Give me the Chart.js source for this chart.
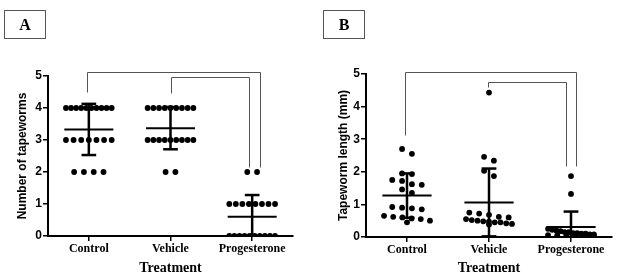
<!DOCTYPE html>
<html>
<head>
<meta charset="utf-8">
<script src="https://cdn.jsdelivr.net/npm/chart.js@4.4.0/dist/chart.umd.min.js"></script>
<style>
  html, body { margin: 0; padding: 0; background: #fff; }
  #wrap { position: relative; width: 617px; height: 279px; overflow: hidden; }
  .panel { position: absolute; top: 0; }
  .tag {
    position: absolute; top: 10px; width: 40px; height: 27px;
    border: 1px solid #555; text-align: center;
    font: bold 16px "Liberation Serif", serif; line-height: 28px; color: #000;
  }
</style>
</head>
<body>
<div id="wrap">
  <div class="panel" style="left:0"><canvas id="chart-a" width="307" height="279"></canvas></div>
  <div class="panel" style="left:307px"><canvas id="chart-b" width="310" height="279"></canvas></div>
  <div class="tag" style="left:4px">A</div>
  <div class="tag" style="left:323px">B</div>
</div>
<script>
// categories + tick labels
const groups = ["Control", "Vehicle", "Progesterone"];
const yTicks = [0, 1, 2, 3, 4, 5];

// Panel A – number of tapeworms per animal
const countControl = [4,4,4,4,4,4,4,4,4,4, 3,3,3,3,3,3,3, 2,2,2,2];
const countVehicle = [4,4,4,4,4,4,4,4,4, 3,3,3,3,3,3,3,3,3, 2,2];
const countProg    = [2,2, 1,1,1,1,1,1,1,1, 0,0,0,0,0,0,0,0,0,0];
const countMean = [3.33, 3.37, 0.60];
const countSD   = [0.80, 0.66, 0.68];

// Panel B – tapeworm length (mm)
const lenControl = [2.70, 2.55, 1.95, 1.93, 1.75, 1.72, 1.62, 1.60, 1.46, 1.35,
                    0.92, 0.90, 0.88, 0.85, 0.65, 0.62, 0.60, 0.57, 0.55, 0.50, 0.45];
const lenVehicle = [4.43, 2.46, 2.34, 2.03, 1.87, 0.75, 0.72, 0.68, 0.62, 0.60,
                    0.55, 0.52, 0.50, 0.48, 0.47, 0.45, 0.45, 0.42, 0.40, 0.38];
const lenProg    = [1.87, 1.32, 0.25, 0.22, 0.20, 0.18, 0.15, 0.15, 0.12, 0.12,
                    0.10, 0.10, 0.08, 0.08, 0.06, 0.05, 0.05, 0.04, 0.03, 0.02];
const lenMean = [1.27, 1.06, 0.31];
const lenSD   = [0.68, 1.04, 0.47];

// spread dots of one group sideways (rows of similar values), like a Prism dot plot
function spreadGroup(values, center, rowTol) {
  const sorted = values.slice().sort((a, b) => b - a);
  const rows = [];
  sorted.forEach(v => {
    const row = rows[rows.length - 1];
    if (row && row[0] - v <= rowTol) row.push(v);
    else rows.push([v]);
  });
  const pts = [];
  rows.forEach(row => {
    const n = row.length;
    const step = n > 1 ? Math.min(0.12, 0.56 / (n - 1)) : 0;
    row.forEach((v, i) => pts.push({ x: center + (i - (n - 1) / 2) * step, y: v }));
  });
  return pts;
}

function seg(x1, y1, x2, y2, w) {
  return {
    type: "line", data: [{ x: x1, y: y1 }, { x: x2, y: y2 }],
    borderColor: "#000", borderWidth: w, pointRadius: 0,
    showLine: true, fill: false, tension: 0
  };
}

function errorBars(means, sds) {
  const out = [];
  means.forEach((m, i) => {
    const c = i + 1, lo = m - sds[i], hi = m + sds[i];
    out.push(seg(c - 0.3, m, c + 0.3, m, 2));
    out.push(seg(c, lo, c, hi, 2.5));
    out.push(seg(c - 0.09, hi, c + 0.09, hi, 2.5));
    out.push(seg(c - 0.09, lo, c + 0.09, lo, 2.5));
  });
  return out;
}

// significance brackets, drawn in data units
const bracketPlugin = {
  id: "brackets",
  afterDatasetsDraw(chart, args, opts) {
    const { ctx, scales: { x, y } } = chart;
    ctx.save();
    ctx.strokeStyle = "#555";
    ctx.lineWidth = 1;
    (opts.items || []).forEach(b => {
      const px = v => Math.round(x.getPixelForValue(v)) + 0.5;
      const py = v => Math.round(y.getPixelForValue(v)) + 0.5;
      ctx.beginPath();
      ctx.moveTo(px(b.x1), py(b.y1));
      ctx.lineTo(px(b.x1), py(b.top));
      ctx.lineTo(px(b.x2), py(b.top));
      ctx.lineTo(px(b.x2), py(b.y2));
      ctx.stroke();
    });
    ctx.restore();
  }
};

function makeChart(canvasId, groupsData, rowTol, means, sds, yTitle, area, brackets) {
  const ctx = document.getElementById(canvasId).getContext("2d");
  const W = ctx.canvas.width, H = ctx.canvas.height;
  const pad = { left: area.titleLeft, right: W - area.right, top: area.top, bottom: 2 };

  const dots = {
    type: "scatter",
    data: groupsData.flatMap((vals, i) => spreadGroup(vals, i + 1, rowTol)),
    backgroundColor: "#000", borderColor: "#000",
    pointRadius: 2.9, pointHoverRadius: 2.9, borderWidth: 0
  };

  return new Chart(ctx, {
    type: "scatter",
    data: { datasets: [dots].concat(errorBars(means, sds)) },
    plugins: [bracketPlugin],
    options: {
      responsive: false,
      animation: false,
      layout: { padding: pad },
      plugins: {
        legend: { display: false },
        tooltip: { enabled: false },
        brackets: { items: brackets }
      },
      scales: {
        x: {
          type: "linear", min: 0.5, max: 3.5,
          afterBuildTicks: s => { s.ticks = groups.map((g, i) => ({ value: i + 1 })); },
          afterFit: s => { s.height = H - area.bottom - pad.bottom; },
          border: { display: true, color: "#000", width: 2 },
          grid: { drawOnChartArea: false, drawTicks: true, tickLength: 5, color: "#000", lineWidth: 1.5 },
          ticks: {
            color: "#000", padding: 1, maxRotation: 0,
            font: { family: "'Liberation Serif', serif", weight: "bold", size: 12 },
            callback: v => groups[v - 1] || ""
          },
          title: {
            display: true, text: "Treatment", color: "#000",
            font: { family: "'Liberation Serif', serif", weight: "bold", size: 14 },
            padding: { top: 2, bottom: 0 }
          }
        },
        y: {
          min: 0, max: 5,
          afterBuildTicks: s => { s.ticks = yTicks.map(v => ({ value: v })); },
          afterFit: s => { s.width = area.left - pad.left; },
          border: { display: true, color: "#000", width: 2 },
          grid: { drawOnChartArea: false, drawTicks: true, tickLength: 5, color: "#000", lineWidth: 1.5 },
          ticks: {
            color: "#000", padding: 1,
            font: { family: "'Liberation Sans', sans-serif", weight: "bold", size: 12 }
          },
          title: {
            display: true, text: yTitle, color: "#000",
            font: { family: "'Liberation Sans', sans-serif", weight: "bold", size: 12 },
            padding: { top: 4, bottom: 0 }
          }
        }
      }
    }
  });
}

makeChart("chart-a", [countControl, countVehicle, countProg], 0, countMean, countSD,
  "Number of tapeworms",
  { left: 48, right: 293, top: 76, bottom: 236, titleLeft: 11 },
  [
    { x1: 0.98, y1: 4.5, top: 5.12, x2: 3.09, y2: 2.15 },
    { x1: 2.0, y1: 4.47, top: 4.97, x2: 2.96, y2: 2.15 }
  ]);

makeChart("chart-b", [lenControl, lenVehicle, lenProg], 0.17, lenMean, lenSD,
  "Tapeworm length (mm)",
  { left: 59, right: 305, top: 74, bottom: 237, titleLeft: 25 },
  [
    { x1: 0.98, y1: 3.13, top: 5.06, x2: 3.06, y2: 2.18 },
    { x1: 1.99, y1: 4.6, top: 4.76, x2: 2.94, y2: 2.18 }
  ]);
</script>
</body>
</html>
